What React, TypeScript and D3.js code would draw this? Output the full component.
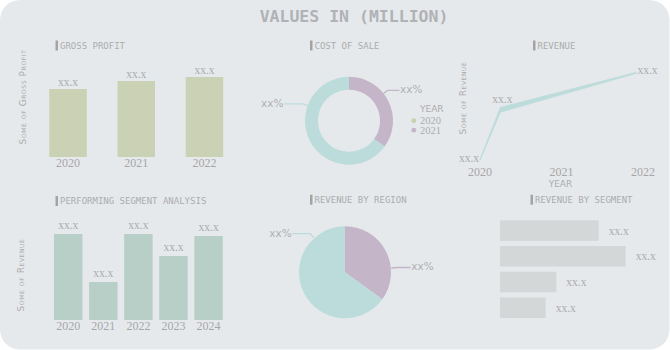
import React from 'react';
import * as d3 from 'd3';

// ---------- data ----------
const grossYears = ['2020', '2021', '2022'];
const grossValues = [68, 76, 80];
const grossLabels = ['xx.x', 'xx.x', 'xx.x'];

const costSlices = ['2021', '2020'];
const costValues = [35, 65];
const costLabels = ['xx%', 'xx%'];
const legendYears = ['2020', '2021'];

const revenueX = [2020, 2020.25, 2021.92];
const revenueY = [0, 50, 87];
const revenueLabels = ['xx.x', 'xx.x', 'xx.x'];
const revenueTicks = [2020, 2021, 2022];

const segYears = ['2020', '2021', '2022', '2023', '2024'];
const segValues = [86, 38, 86, 64, 84];
const segLabels = ['xx.x', 'xx.x', 'xx.x', 'xx.x', 'xx.x'];

const regionSlices = ['A', 'B'];
const regionValues = [35, 65];
const regionLabels = ['xx%', 'xx%'];

const segmentNames = ['S1', 'S2', 'S3', 'S4'];
const segmentValues = [98.7, 125.7, 56.3, 45.7];
const segmentLabels = ['xx.x', 'xx.x', 'xx.x', 'xx.x'];

// ---------- style ----------
const PANEL = '#e6e9ec';
const TXT = '#acacac';
const YEARTXT = '#a6a6a6';
const TEAL = '#bcdcdb';
const PURPLE = '#c4b5c9';
const OLIVE = '#cbd1b5';
const SAGE = '#b7cfc6';
const GREYBAR = '#d4d7d8';
const MONO = '"DejaVu Sans Mono", monospace';
const SERIF = '"Liberation Serif", "DejaVu Serif", serif';
const SANS = '"DejaVu Sans", sans-serif';

function Subtitle({ x, y, text }: { x: number; y: number; text: string }) {
  return (
    <g>
      <rect x={x} y={y - 5} width={2.5} height={10} fill="#a3a3a3" />
      <text x={x + 4.5} y={y} dominantBaseline="central" fontFamily={MONO} fontSize={9} fill={TXT}>
        {text}
      </text>
    </g>
  );
}

function YTitle({ x, y, text }: { x: number; y: number; text: string }) {
  return (
    <text
      transform={`translate(${x},${y}) rotate(-90)`}
      textAnchor="middle"
      dominantBaseline="central"
      fontFamily={SANS}
      fontSize={9}
      fontVariant="small-caps"
      letterSpacing={0.6}
      fill={TXT}
    >
      {text}
    </text>
  );
}

function Leader({ cx, cy, r, angleDeg, len, color, label }: any) {
  const a = (angleDeg * Math.PI) / 180;
  const sx = cx + (r + 0.5) * Math.sin(a);
  const sy = cy - (r + 0.5) * Math.cos(a);
  const ex = cx + (r + 6) * Math.sin(a);
  const ey = cy - (r + 6) * Math.cos(a);
  const right = Math.sin(a) > 0;
  const hx = ex + (right ? len : -len);
  return (
    <g>
      <path d={`M${sx},${sy}L${ex},${ey}L${hx},${ey}`} fill="none" stroke={color} strokeWidth={1.3} />
      <text
        x={hx + (right ? 0.5 : -0.5)}
        y={ey - 1}
        textAnchor={right ? 'start' : 'end'}
        dominantBaseline="central"
        fontFamily={SANS}
        fontSize={10.5}
        fill="#b0b0b0"
      >
        {label}
      </text>
    </g>
  );
}

export default function App() {
  // Gross profit
  const gx = d3.scaleBand<string>().domain(grossYears).range([18.6, 253.9]).padding(0.45);
  const gy = d3.scaleLinear().domain([0, 100]).range([157, 57]);

  // Cost of sale donut
  const cCx = 349, cCy = 120.7;
  const pie = d3.pie<number>().sort(null).value((d) => d);
  const costArcs = pie(costValues);
  const donutArc = d3.arc<d3.PieArcDatum<number>>().innerRadius(31).outerRadius(44);
  const costColors = [PURPLE, TEAL];
  const costLabelAngles = [51.8, 290];

  // Revenue line
  const rx = d3.scaleLinear().domain([2020, 2022]).range([480, 643]);
  const ry = d3.scaleLinear().domain([0, 100]).range([159.5, 59.5]);
  const ribbon = [0.6, 4.2, 0.5];
  const revPts = revenueX.map((x, i) => ({ x: rx(x), y: ry(revenueY[i]), w: ribbon[i] }));
  const revArea = d3
    .area<{ x: number; y: number; w: number }>()
    .x((d) => d.x)
    .y0((d) => d.y - d.w / 2)
    .y1((d) => d.y + d.w / 2 + 0.6);

  // Performing segment
  const sx = d3.scaleBand<string>().domain(segYears).range([54, 222.8]).paddingInner(0.19).paddingOuter(0);
  const sy = d3.scaleLinear().domain([0, 100]).range([320, 220]);

  // Region pie
  const pCx = 345, pCy = 272.3;
  const regionArcs = pie(regionValues);
  const pieArc = d3.arc<d3.PieArcDatum<number>>().innerRadius(0).outerRadius(46);
  const regionColors = [PURPLE, TEAL];
  const regionLabelAngles = [84.7, 318];

  // Revenue by segment
  const hy = d3.scaleBand<string>().domain(segmentNames).range([220.3, 318]).paddingInner(0.2).paddingOuter(0);
  const hx = d3.scaleLinear().domain([0, 130]).range([500, 630]);

  return (
    <svg width={670} height={350} style={{ position: 'absolute', left: 0, top: 0, background: '#ffffff' }}>
      <rect x={0} y={0} width={669.5} height={349.5} rx={20} ry={20} fill={PANEL} />

      <text x={354} y={16} textAnchor="middle" dominantBaseline="central" fontFamily={MONO} fontWeight="bold" fontSize={16.5} fill="#b0b2b5">
        VALUES IN (MILLION)
      </text>

      {/* Gross profit */}
      <Subtitle x={55.5} y={45.5} text="GROSS PROFIT" />
      <YTitle x={23} y={97} text="Some of Gross Profit" />
      {grossYears.map((yr, i) => (
        <g key={yr}>
          <rect x={gx(yr)} y={gy(grossValues[i])} width={gx.bandwidth()} height={gy(0) - gy(grossValues[i])} fill={OLIVE} />
          <text x={gx(yr)! + gx.bandwidth() / 2} y={gy(grossValues[i]) - 7.5} textAnchor="middle" dominantBaseline="central" fontFamily={SERIF} fontSize={11.5} fill={TXT}>
            {grossLabels[i]}
          </text>
          <text x={gx(yr)! + gx.bandwidth() / 2} y={162.5} textAnchor="middle" dominantBaseline="central" fontFamily={SERIF} fontSize={12} fill={YEARTXT}>
            {yr}
          </text>
        </g>
      ))}

      {/* Cost of sale */}
      <Subtitle x={310} y={45.5} text="COST OF SALE" />
      <g transform={`translate(${cCx},${cCy})`}>
        {costArcs.map((a, i) => (
          <path key={costSlices[i]} d={donutArc(a)!} fill={costColors[i]} />
        ))}
      </g>
      {costArcs.map((a, i) => (
        <Leader key={i} cx={cCx} cy={cCy} r={43} angleDeg={costLabelAngles[i]} len={i === 0 ? 12 : 19} color={costColors[i]} label={costLabels[i]} />
      ))}
      <text x={420} y={109} dominantBaseline="central" fontFamily={SANS} fontSize={9} fill={TXT}>YEAR</text>
      {legendYears.map((yr, i) => (
        <g key={yr}>
          <circle cx={413.8} cy={120.7 + i * 9.5} r={2.4} fill={i === 0 ? '#c9cfb0' : PURPLE} />
          <text x={420} y={120.7 + i * 9.5} dominantBaseline="central" fontFamily={SERIF} fontSize={10.5} fill={TXT}>
            {yr}
          </text>
        </g>
      ))}

      {/* Revenue */}
      <Subtitle x={533} y={45.5} text="REVENUE" />
      <YTitle x={463} y={98} text="Some of Revenue" />
      <path d={revArea(revPts)!} fill={TEAL} stroke={TEAL} strokeWidth={0.8} strokeLinejoin="round" />
      <text x={revPts[0].x - 1} y={158} textAnchor="end" dominantBaseline="central" fontFamily={SERIF} fontSize={11.5} fill={TXT}>{revenueLabels[0]}</text>
      <text x={revPts[1].x + 2} y={revPts[1].y - 11} textAnchor="middle" dominantBaseline="central" fontFamily={SERIF} fontSize={11.5} fill={TXT}>{revenueLabels[1]}</text>
      <text x={revPts[2].x + 1} y={revPts[2].y - 3} textAnchor="start" dominantBaseline="central" fontFamily={SERIF} fontSize={11.5} fill={TXT}>{revenueLabels[2]}</text>
      {revenueTicks.map((t) => (
        <text key={t} x={rx(t)} y={172} textAnchor="middle" dominantBaseline="central" fontFamily={SERIF} fontSize={12} fill={YEARTXT}>
          {t}
        </text>
      ))}
      <text x={560.5} y={184} textAnchor="middle" dominantBaseline="central" fontFamily={SANS} fontSize={9} fill={TXT}>YEAR</text>

      {/* Performing segment analysis */}
      <Subtitle x={55.5} y={201} text="PERFORMING SEGMENT ANALYSIS" />
      <YTitle x={21} y={275} text="Some of Revenue" />
      {segYears.map((yr, i) => (
        <g key={yr}>
          <rect x={sx(yr)} y={sy(segValues[i])} width={sx.bandwidth()} height={sy(0) - sy(segValues[i])} fill={SAGE} />
          <text x={sx(yr)! + sx.bandwidth() / 2} y={sy(segValues[i]) - 9} textAnchor="middle" dominantBaseline="central" fontFamily={SERIF} fontSize={11.5} fill={TXT}>
            {segLabels[i]}
          </text>
          <text x={sx(yr)! + sx.bandwidth() / 2} y={325.5} textAnchor="middle" dominantBaseline="central" fontFamily={SERIF} fontSize={12} fill={YEARTXT}>
            {yr}
          </text>
        </g>
      ))}

      {/* Revenue by region */}
      <Subtitle x={310} y={199.7} text="REVENUE BY REGION" />
      <g transform={`translate(${pCx},${pCy})`}>
        {regionArcs.map((a, i) => (
          <path key={regionSlices[i]} d={pieArc(a)!} fill={regionColors[i]} />
        ))}
      </g>
      {regionArcs.map((a, i) => (
        <Leader key={i} cx={pCx} cy={pCy} r={46} angleDeg={regionLabelAngles[i]} len={i === 0 ? 14 : 18} color={regionColors[i]} label={regionLabels[i]} />
      ))}

      {/* Revenue by segment */}
      <Subtitle x={530.5} y={199.7} text="REVENUE BY SEGMENT" />
      {segmentNames.map((s, i) => (
        <g key={s}>
          <rect x={hx(0)} y={hy(s)} width={hx(segmentValues[i]) - hx(0)} height={hy.bandwidth()} fill={GREYBAR} />
          <text x={hx(segmentValues[i]) + 10} y={hy(s)! + hy.bandwidth() / 2} dominantBaseline="central" fontFamily={SERIF} fontSize={11.5} fill={TXT}>
            {segmentLabels[i]}
          </text>
        </g>
      ))}
    </svg>
  );
}
